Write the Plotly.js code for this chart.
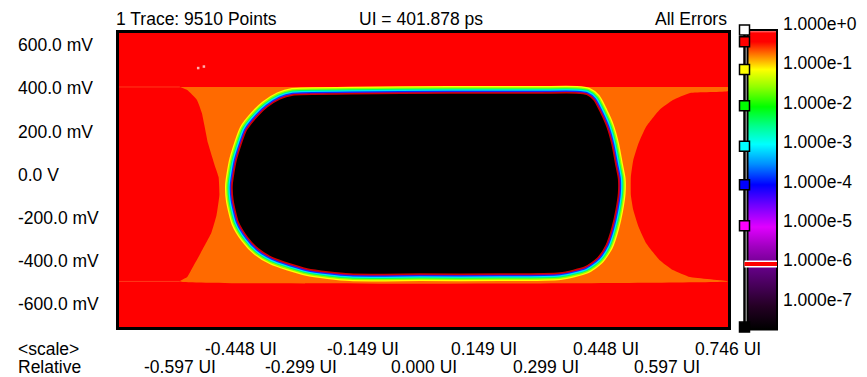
<!DOCTYPE html>
<html><head><meta charset="utf-8">
<script src="https://cdn.plot.ly/plotly-3.0.1.min.js"></script>
<style>html,body{margin:0;padding:0;background:#fff;}#chart{width:867px;height:377px;}</style>
</head><body><div id="chart"></div>
<script>
// ---------------- data ----------------
const headerLeft = '1 Trace: 9510 Points';
const headerMid = 'UI = 401.878 ps';
const headerRight = 'All Errors';
const scaleLabels = ['&lt;scale&gt;', 'Relative'];

// x axis: unit intervals
const xRange = [-0.746, 0.746];
const xTickVals = [-0.597, -0.448, -0.299, -0.149, 0.000, 0.149, 0.299, 0.448, 0.597, 0.746];
const xTickText = ['-0.597 UI','-0.448 UI','-0.299 UI','-0.149 UI','0.000 UI','0.149 UI','0.299 UI','0.448 UI','0.597 UI','0.746 UI'];

// y axis: millivolts
const yRange = [-709, 658];
const yTickVals = [600, 400, 200, 0, -200, -400, -600];
const yTickText = ['600.0 mV','400.0 mV','200.0 mV','0.0 V','-200.0 mV','-400.0 mV','-600.0 mV'];

// inner eye opening (BER below 1e-7), UI / mV
const eyeX = [-0.320,-0.180,0.065,0.285,0.375,0.400,0.418,0.434,0.450,0.462,0.471,0.478,0.478,0.472,0.462,0.448,0.427,0.396,0.334,0.187,-0.009,-0.180,-0.285,-0.369,-0.405,-0.432,-0.454,-0.467,-0.469,-0.459,-0.434,-0.408,-0.383,-0.352];
const eyeY = [370,375,379,379,379,373,347,290,221,140,50,-20,-86,-165,-249,-328,-388,-430,-458,-463,-463,-463,-439,-388,-346,-291,-221,-119,-49,67,207,270,315,352];

// orange (BER ~1e-1) region: left and right boundaries, top to bottom
const leftEdgeX = [-0.597,-0.579,-0.555,-0.543,-0.528,-0.511,-0.502,-0.500,-0.507,-0.520,-0.546,-0.565,-0.579,-0.597];
const leftEdgeY = [407,393,347,286,146,40,-12,-95,-188,-272,-365,-430,-477,-497];
const rightEdgeX = [0.746,0.746,0.653,0.611,0.578,0.545,0.527,0.514,0.508,0.508,0.514,0.527,0.545,0.578,0.611,0.653,0.746];
const rightEdgeY = [407,388,379,346,300,221,146,67,-12,-95,-165,-244,-318,-397,-444,-477,-497];

// faint specks in the upper-left corner
const speckX = [-0.552, -0.538];
const speckY = [495, 502];

// BER scale (log10)
const berDecades = [0, -1, -2, -3, -4, -5, -6, -7];
const berLabels = ['1.000e+0','1.000e-1','1.000e-2','1.000e-3','1.000e-4','1.000e-5','1.000e-6','1.000e-7'];
const berMin = -7.6;
const markerLevels = [0, -0.30, -1.00, -1.92, -2.95, -3.93, -4.97, -7.54];
const markerColors = ['#ffffff','#ff0000','#ffff00','#00ff00','#00ffff','#0000ff','#ff00ff','#000000'];
const thresholdLevel = -5.94;

// ---------------- style ----------------
const FONT = {family: 'Liberation Sans, Arial, sans-serif', size: 17.5, color: '#000'};
const W = 867, H = 377;
const M = {l: 119, r: 87, t: 28, b: 46};
const PW = W - M.l - M.r, PH = H - M.t - M.b;
const px2x = px => (px - M.l) / PW;
const px2y = py => (H - M.b - py) / PH;
const decadePx = 39.4, cbTopPx = 30;
const Lpx = py => -(py - cbTopPx) / decadePx;

const cbStops = [
  [0, '#ffa0a0'], [-0.08, '#ff0000'], [-0.3, '#ff0000'], [-0.6, '#ff7000'], [-1.0, '#ffff00'],
  [-1.45, '#90ff00'], [-1.95, '#00ff00'], [-2.45, '#00ff90'], [-2.9, '#00ffff'], [-3.4, '#0090ff'],
  [-3.93, '#0000ff'], [-4.45, '#7000ff'], [-5.0, '#e000ff'], [-5.5, '#a000c0'], [-6.1, '#600080'],
  [-7.0, '#250025'], [berMin, '#000000']
];
const cbScale = cbStops.map(s => [(s[0] - berMin) / (0 - berMin), s[1]]).reverse();

const bandColors = ['#ffff00', '#90ff00', '#00ff60', '#00e0ff', '#0030ff', '#8000c0'];
const bandWidths = [14, 11.5, 9, 7, 4.5, 2.5];

// ---------------- traces ----------------
const closedX = eyeX.concat([eyeX[0]]);
const closedY = eyeY.concat([eyeY[0]]);
const traces = [];

traces.push({
  x: leftEdgeX.concat(rightEdgeX.slice().reverse()),
  y: leftEdgeY.concat(rightEdgeY.slice().reverse()),
  type: 'scatter', mode: 'lines', fill: 'toself', fillcolor: '#ff6a00',
  line: {width: 0, color: '#ff6a00', shape: 'spline', smoothing: 0.4}, hoverinfo: 'skip', xaxis: 'x', yaxis: 'y'
});
// faint continuation of the orange top / bottom edges toward the left border
traces.push({
  x: [xRange[0], leftEdgeX[0]], y: [leftEdgeY[0], leftEdgeY[0]], type: 'scatter', mode: 'lines',
  line: {color: '#ff3a1a', width: 1}, hoverinfo: 'skip', xaxis: 'x', yaxis: 'y'
});
traces.push({
  x: [xRange[0], leftEdgeX[leftEdgeX.length - 1]], y: [leftEdgeY[leftEdgeY.length - 1], leftEdgeY[leftEdgeY.length - 1]], type: 'scatter', mode: 'lines',
  line: {color: '#ff3a1a', width: 1}, hoverinfo: 'skip', xaxis: 'x', yaxis: 'y'
});
traces.push({
  x: speckX, y: speckY, type: 'scatter', mode: 'markers',
  marker: {color: '#ffb0b0', size: 2.5, symbol: 'square', line: {width: 0}}, hoverinfo: 'skip', xaxis: 'x', yaxis: 'y'
});
bandColors.forEach((c, i) => traces.push({
  x: closedX, y: closedY, type: 'scatter', mode: 'lines',
  line: {color: c, width: bandWidths[i], shape: 'spline', smoothing: 0.6},
  hoverinfo: 'skip', xaxis: 'x', yaxis: 'y'
}));
traces.push({
  x: closedX, y: closedY, type: 'scatter', mode: 'lines', fill: 'toself', fillcolor: '#000000',
  line: {color: '#d00000', width: 1.5, shape: 'spline', smoothing: 0.6},
  hoverinfo: 'skip', xaxis: 'x', yaxis: 'y'
});

// colour scale bar
traces.push({
  x: [9.5, 39, 39, 9.5, 9.5], y: [0, 0, berMin, berMin, 0],
  type: 'scatter', mode: 'lines', fill: 'toself',
  fillgradient: {type: 'vertical', colorscale: cbScale, start: berMin, stop: 0},
  line: {color: '#000', width: 2}, hoverinfo: 'skip', xaxis: 'x2', yaxis: 'y2', cliponaxis: false
});
// vertical rail
traces.push({
  x: [6.5, 6.5], y: [markerLevels[0], markerLevels[markerLevels.length - 1]],
  type: 'scatter', mode: 'lines', line: {color: '#000', width: 2.5},
  hoverinfo: 'skip', xaxis: 'x2', yaxis: 'y2', cliponaxis: false
});
// threshold bar
traces.push({
  x: [6.5, 39], y: [thresholdLevel, thresholdLevel], type: 'scatter', mode: 'lines',
  line: {color: '#ffffff', width: 7}, hoverinfo: 'skip', xaxis: 'x2', yaxis: 'y2', cliponaxis: false
});
traces.push({
  x: [6.5, 39], y: [thresholdLevel, thresholdLevel], type: 'scatter', mode: 'lines',
  line: {color: '#ff0000', width: 4}, hoverinfo: 'skip', xaxis: 'x2', yaxis: 'y2', cliponaxis: false
});
// handles
traces.push({
  x: markerLevels.map(() => 6.5), y: markerLevels, type: 'scatter', mode: 'markers',
  marker: {symbol: 'square', size: 10, color: markerColors, line: {color: '#000', width: 1.5}},
  hoverinfo: 'skip', xaxis: 'x2', yaxis: 'y2', cliponaxis: false
});

// ---------------- annotations ----------------
const ann = [];
const A = (o) => Object.assign({showarrow: false, font: FONT, yanchor: 'middle'}, o);
ann.push(A({text: headerLeft, xref: 'paper', yref: 'paper', x: px2x(114), y: px2y(19), xanchor: 'left'}));
ann.push(A({text: headerMid, xref: 'paper', yref: 'paper', x: px2x(421), y: px2y(19), xanchor: 'center'}));
ann.push(A({text: headerRight, xref: 'paper', yref: 'paper', x: px2x(729), y: px2y(19), xanchor: 'right'}));
yTickVals.forEach((v, i) => ann.push(A({text: yTickText[i], xref: 'paper', yref: 'y', x: px2x(16), y: v, xanchor: 'left'})));
xTickVals.forEach((v, i) => ann.push(A({text: xTickText[i], xref: 'x', yref: 'paper', x: v, y: px2y(i % 2 === 0 ? 367 : 349), xanchor: 'center'})));
ann.push(A({text: scaleLabels[0], xref: 'paper', yref: 'paper', x: px2x(16), y: px2y(349), xanchor: 'left'}));
ann.push(A({text: scaleLabels[1], xref: 'paper', yref: 'paper', x: px2x(16), y: px2y(367), xanchor: 'left'}));
berDecades.forEach((v, i) => ann.push(A({text: berLabels[i], xref: 'paper', yref: 'y2', x: px2x(781), y: v, yshift: 6, xanchor: 'left'})));

const layout = {
  width: W, height: H, margin: M, showlegend: false,
  paper_bgcolor: '#ffffff', plot_bgcolor: 'rgba(0,0,0,0)',
  xaxis: {domain: [0, px2x(728)], range: xRange, showgrid: false, zeroline: false, showticklabels: false, ticks: '',
          showline: true, mirror: true, linecolor: '#000', linewidth: 3, fixedrange: true, anchor: 'y'},
  yaxis: {domain: [px2y(327), px2y(33)], range: yRange, showgrid: false, zeroline: false, showticklabels: false, ticks: '',
          showline: true, mirror: true, linecolor: '#000', linewidth: 3, fixedrange: true, anchor: 'x'},
  xaxis2: {domain: [px2x(738), 1], range: [0, 42], visible: false, fixedrange: true, anchor: 'y2'},
  yaxis2: {domain: [0, 1], range: [Lpx(H - M.b), Lpx(M.t)], visible: false, fixedrange: true, anchor: 'x2'},
  shapes: [{type: 'rect', xref: 'x domain', yref: 'y domain', x0: 0, x1: 1, y0: 0, y1: 1,
            fillcolor: '#ff0000', line: {width: 0}, layer: 'below'}],
  annotations: ann
};

Plotly.newPlot('chart', traces, layout, {staticPlot: true, displayModeBar: false});
</script>
</body></html>
